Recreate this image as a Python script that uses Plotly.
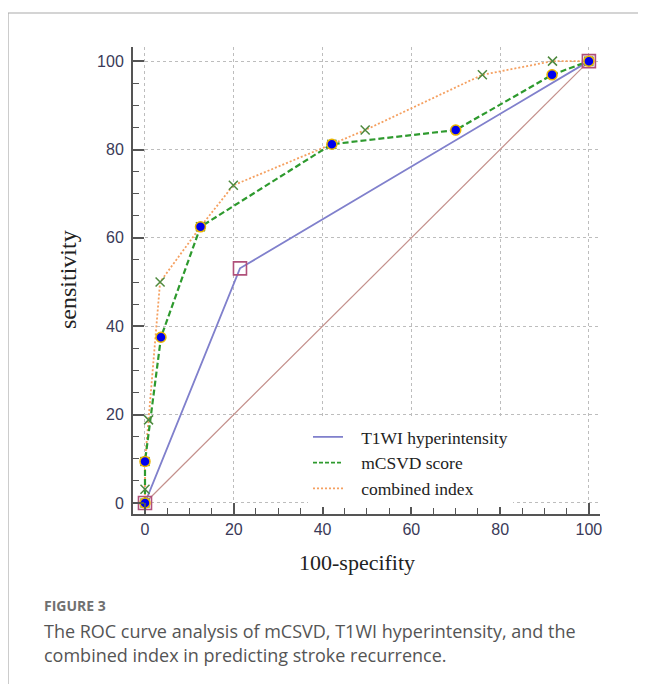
import plotly.graph_objects as go

# ROC points (100-specificity, sensitivity)
t1wi_x = [0, 21.4, 100]
t1wi_y = [0, 53.1, 100]

mcsvd_x = [0, 0, 3.6, 12.5, 42.1, 70.0, 91.7, 100]
mcsvd_y = [0, 9.4, 37.5, 62.5, 81.2, 84.4, 96.9, 100]

comb_x = [0, 0, 0, 0.8, 3.4, 12.5, 19.9, 42.1, 49.6, 76.0, 91.8, 100]
comb_y = [0, 3.1, 9.4, 18.8, 50.0, 62.5, 71.9, 81.2, 84.4, 96.9, 100, 100]

ref_x = [0, 100]
ref_y = [0, 100]

legend_names = ["T1WI hyperintensity", "mCSVD score", "combined index"]
ticks = [0, 20, 40, 60, 80, 100]

# page puts the plot 8px in from the corner, so work in window pixels
OFF = 8
W, H = 646 - OFF, 684 - OFF
PL, PR, PT, PB = 133, 600, 47, 514   # plot area in window pixels
pw, ph = PR - PL, PB - PT


def px(x):
    return (x - PL) / pw


def py(y):
    return (PB - y) / ph


fig = go.Figure()

# chance diagonal
fig.add_trace(go.Scatter(x=ref_x, y=ref_y, mode='lines', showlegend=False,
                         line=dict(color='#c4908c', width=1.2)))

fig.add_trace(go.Scatter(x=t1wi_x, y=t1wi_y, mode='lines', showlegend=False,
                         line=dict(color='#8080cc', width=1.8)))
fig.add_trace(go.Scatter(x=comb_x, y=comb_y, mode='lines', showlegend=False,
                         line=dict(color='#f5a060', width=1.8, dash='2px,2px')))
fig.add_trace(go.Scatter(x=mcsvd_x, y=mcsvd_y, mode='lines', showlegend=False,
                         line=dict(color='#2e9a2e', width=2.2, dash='6px,3px')))

# markers
fig.add_trace(go.Scatter(x=t1wi_x, y=t1wi_y, mode='markers', showlegend=False,
                         marker=dict(symbol='square-open', size=13, color='#b0507a',
                                     line=dict(width=1.6))))
fig.add_trace(go.Scatter(x=comb_x, y=comb_y, mode='markers', showlegend=False,
                         marker=dict(symbol='x-thin-open', size=9, color='#4f8a3f',
                                     line=dict(width=1.5, color='#4f8a3f'))))
fig.add_trace(go.Scatter(x=mcsvd_x, y=mcsvd_y, mode='markers', showlegend=False,
                         marker=dict(symbol='circle', size=10, color='#0000ee',
                                     line=dict(width=1.5, color='#e8b400'))))

# legend entries (line samples only)
legend_styles = [dict(color='#8080cc', width=1.8),
                 dict(color='#2e9a2e', width=1.6, dash='4px,2px'),
                 dict(color='#f5a060', width=1.6, dash='2px,2px')]
for name, style in zip(legend_names, legend_styles):
    fig.add_trace(go.Scatter(x=[None], y=[None], mode='lines',
                             name='&nbsp;&nbsp;&nbsp;' + name, line=style))

axis_common = dict(
    showline=True, linecolor='#555555', linewidth=2, mirror=False,
    showgrid=True, gridcolor='#bdbdbd', griddash='dot', gridwidth=1,
    zeroline=False, ticks='inside', ticklen=11, tickwidth=1.5, tickcolor='#555555',
    tickvals=ticks, ticktext=[str(t) for t in ticks],
    tickfont=dict(family='Liberation Sans', size=16, color='#3a3a58'),
    minor=dict(dtick=5, tick0=0, ticks='inside', ticklen=6, tickwidth=1.2,
               tickcolor='#555555', showgrid=False),
)

fig.update_xaxes(range=[-2.7, 102.5], **axis_common)
fig.update_yaxes(range=[-2.5, 103.2], ticklabelstandoff=4, **axis_common)

fig.update_layout(
    width=W, height=H,
    margin=dict(l=PL - OFF, r=W - (PR - OFF), t=PT - OFF, b=H - (PB - OFF)),
    plot_bgcolor='white', paper_bgcolor='white',
    legend=dict(x=px(308), y=py(419), xanchor='left', yanchor='top',
                bgcolor='white', borderwidth=0, tracegroupgap=0,
                font=dict(family='Liberation Serif', size=17.5, color='#222222')),
    shapes=[
        dict(type='line', xref='paper', yref='paper', x0=px(8), x1=px(646), y0=py(13), y1=py(13),
             line=dict(color='#aaaaaa', width=1.2)),
        dict(type='line', xref='paper', yref='paper', x0=px(8), x1=px(8), y0=py(13), y1=py(684),
             line=dict(color='#aaaaaa', width=1.2)),
    ],
    annotations=[
        dict(text='sensitivity', xref='paper', yref='paper', x=px(68), y=py(280),
             textangle=-90, showarrow=False, xanchor='center', yanchor='middle',
             font=dict(family='Liberation Serif', size=24, color='#222222')),
        dict(text='100-specifity', xref='paper', yref='paper', x=px(357), y=py(562),
             showarrow=False, xanchor='center', yanchor='middle',
             font=dict(family='Liberation Serif', size=22, color='#222222')),
        dict(text='<b>FIGURE 3</b>', xref='paper', yref='paper', x=px(42), y=py(605),
             showarrow=False, xanchor='left', yanchor='middle',
             font=dict(family='Open Sans', size=14, color='#707070')),
        dict(text='The ROC curve analysis of mCSVD, T1WI hyperintensity, and the',
             xref='paper', yref='paper', x=px(42), y=py(631),
             showarrow=False, xanchor='left', yanchor='middle',
             font=dict(family='Open Sans', size=18, color='#555555')),
        dict(text='combined index in predicting stroke recurrence.',
             xref='paper', yref='paper', x=px(42), y=py(655),
             showarrow=False, xanchor='left', yanchor='middle',
             font=dict(family='Open Sans', size=18, color='#555555')),
    ],
)

fig.write_html("out.html")
